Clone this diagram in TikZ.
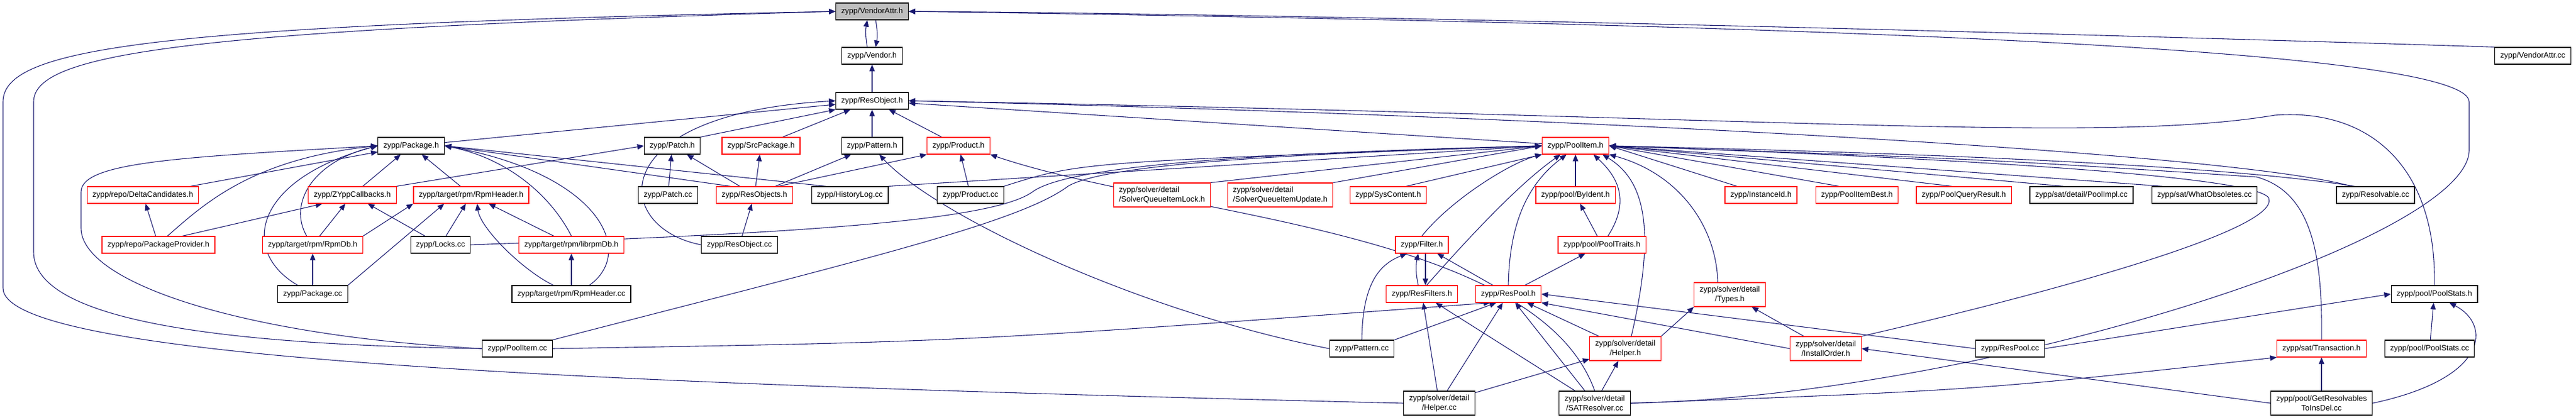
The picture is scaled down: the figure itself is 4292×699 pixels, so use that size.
\documentclass[tikz,border=0pt]{standalone}
\usepackage{fontspec}
\setmainfont{Liberation Sans}
\usepackage{xcolor}
\usepackage{tikz}
\usetikzlibrary{arrows.meta,backgrounds,positioning,calc}
\definecolor{edgeblue}{RGB}{25,25,112}
\definecolor{rootgray}{RGB}{191,191,191}

\begin{document}
\begin{tikzpicture}[x=1pt,y=-1pt,
	filebox/.style={draw=black,line width=1.2pt,fill=white,inner xsep=9pt,inner ysep=0pt,minimum height=28pt,font=\fontsize{13}{15.5}\selectfont},
	redbox/.style={filebox,draw=red},
	rootbox/.style={filebox,fill=rootgray},
	twoline/.style={align=center,minimum height=40pt},
	incl/.style={->,>={Triangle[length=11pt,width=9pt]},draw=edgeblue,line width=1.1pt}]
	\useasboundingbox (0,0) rectangle (4292,699);
	% top of the graph
	\node[rootbox] (vattrh) at (1453,19) {zypp/VendorAttr.h};
	\node[filebox] (vendorh) at (1453,93) {zypp/Vendor.h};
	\node[filebox] (vattrcc) at (4220,93) {zypp/VendorAttr.cc};
	\node[filebox] (resobjh) at (1453,168) {zypp/ResObject.h};
	% row 3
	\node[filebox] (packageh) at (685,243) {zypp/Package.h};
	\node[filebox] (patchh) at (1120,243) {zypp/Patch.h};
	\node[redbox] (srcpkgh) at (1268,243) {zypp/SrcPackage.h};
	\node[filebox] (patternh) at (1453,243) {zypp/Pattern.h};
	\node[redbox] (producth) at (1597,243) {zypp/Product.h};
	\node[redbox] (poolitemh) at (2625,243) {zypp/PoolItem.h};
	% row 4
	\node[redbox] (deltah) at (238,325) {zypp/repo/DeltaCandidates.h};
	\node[redbox] (callbacksh) at (587,325) {zypp/ZYppCallbacks.h};
	\node[redbox] (rpmheaderh) at (785,325) {zypp/target/rpm/RpmHeader.h};
	\node[filebox] (patchcc) at (1113,325) {zypp/Patch.cc};
	\node[redbox] (resobjsh) at (1257,325) {zypp/ResObjects.h};
	\node[filebox] (histlogcc) at (1416,325) {zypp/HistoryLog.cc};
	\node[filebox] (productcc) at (1617,325) {zypp/Product.cc};
	\node[redbox,twoline,align=left] (qlockh) at (1936,325) {zypp/solver/detail\\/SolverQueueItemLock.h};
	\node[redbox,twoline,align=left] (qupdh) at (2133,325) {zypp/solver/detail\\/SolverQueueItemUpdate.h};
	\node[redbox] (syscontenth) at (2313,325) {zypp/SysContent.h};
	\node[redbox] (byidenth) at (2625,325) {zypp/pool/ByIdent.h};
	\node[redbox] (instidh) at (2934,325) {zypp/InstanceId.h};
	\node[redbox] (besth) at (3094,325) {zypp/PoolItemBest.h};
	\node[redbox] (qresh) at (3272,325) {zypp/PoolQueryResult.h};
	\node[filebox] (poolimplcc) at (3468,325) {zypp/sat/detail/PoolImpl.cc};
	\node[filebox] (whatobscc) at (3673,325) {zypp/sat/WhatObsoletes.cc};
	\node[filebox] (resolvcc) at (3958,325) {zypp/Resolvable.cc};
	% row 5
	\node[redbox] (providerh) at (264,408) {zypp/repo/PackageProvider.h};
	\node[redbox] (rpmdbh) at (521,408) {zypp/target/rpm/RpmDb.h};
	\node[filebox] (lockscc) at (734,408) {zypp/Locks.cc};
	\node[redbox] (librpmh) at (952,408) {zypp/target/rpm/librpmDb.h};
	\node[filebox] (resobjcc) at (1232,408) {zypp/ResObject.cc};
	\node[redbox] (filterh) at (2369,408) {zypp/Filter.h};
	\node[redbox] (pooltraitsh) at (2669,408) {zypp/pool/PoolTraits.h};
	% row 6
	\node[filebox] (packagecc) at (521,490) {zypp/Package.cc};
	\node[filebox] (rpmheadercc) at (952,490) {zypp/target/rpm/RpmHeader.cc};
	\node[redbox] (resfiltersh) at (2369,490) {zypp/ResFilters.h};
	\node[redbox] (respoolh) at (2513,490) {zypp/ResPool.h};
	\node[redbox,twoline] (typesh) at (2882,491) {zypp/solver/detail\\/Types.h};
	\node[filebox] (statsh) at (4056,490) {zypp/pool/PoolStats.h};
	% row 7
	\node[filebox] (poolitemcc) at (862,581) {zypp/PoolItem.cc};
	\node[filebox] (patterncc) at (2269,581) {zypp/Pattern.cc};
	\node[redbox,twoline] (helperh) at (2708,581) {zypp/solver/detail\\/Helper.h};
	\node[redbox,twoline] (orderh) at (3042,581) {zypp/solver/detail\\/InstallOrder.h};
	\node[filebox] (respoolcc) at (3349,581) {zypp/ResPool.cc};
	\node[redbox] (transh) at (3868,581) {zypp/sat/Transaction.h};
	\node[filebox] (statscc) at (4048,581) {zypp/pool/PoolStats.cc};
	% row 8
	\node[filebox,twoline] (helpercc) at (2398,672) {zypp/solver/detail\\/Helper.cc};
	\node[filebox,twoline] (satcc) at (2657,672) {zypp/solver/detail\\/SATResolver.cc};
	\node[filebox,twoline] (getrescc) at (3868,672) {zypp/pool/GetResolvables\\ToInsDel.cc};

	\begin{scope}[on background layer]
	% VendorAttr.h
	\draw[incl] ([xshift=-8pt]vendorh.north) to[bend left=10] ([xshift=-8pt]vattrh.south);
	\draw[incl] ([xshift=6pt]vattrh.south) to[bend left=10] ([xshift=6pt]vendorh.north);
	\draw[incl] (vattrcc.north west) .. controls (3000,42) and (2000,22) .. (vattrh.east);
	\draw[incl] (poolitemcc.west) .. controls (400,575) and (56,540) .. (56,420) -- (56,170) .. controls (56,90) and (300,50) .. (vattrh.west);
	\draw[incl] (helpercc.west) .. controls (1000,640) and (5,600) .. (5,480) -- (5,170) .. controls (5,80) and (250,42) .. (vattrh.west);
	\draw[incl] (satcc.east) .. controls (3300,660) and (4114,400) .. (4114,250) -- (4114,170) .. controls (4114,80) and (3000,40) .. (vattrh.east);
	\draw[incl] (resobjh) -- (vendorh);
	% ResObject.h
	\draw[incl] (packageh) -- (resobjh);
	\draw[incl] (patchh.north east) -- (resobjh.south west);
	\draw[incl] (srcpkgh) -- (resobjh);
	\draw[incl] (patternh) -- (resobjh);
	\draw[incl] (producth) -- (resobjh);
	\draw[incl] (poolitemh) -- (resobjh);
	\draw[incl] (resobjcc.west) .. controls (1020,380) and (1000,190) .. (resobjh.west);
	\draw[incl] (statsh.north) .. controls (4060,280) and (3950,180) .. (3790,192) .. controls (3500,240) and (3000,195) .. (resobjh.east);
	\draw[incl] ([xshift=-40pt]resolvcc.north) .. controls (3700,250) and (2500,190) .. (resobjh.east);
	% Package.h
	\draw[incl] (poolitemcc.west) .. controls (400,560) and (135,470) .. (135,380) -- (135,320) .. controls (135,270) and (300,262) .. (packageh.west);
	\draw[incl] (deltah) -- (packageh);
	\draw[incl] ([xshift=15pt]providerh.north) .. controls (340,340) and (420,265) .. (packageh.west);
	\draw[incl] ([xshift=-25pt]packagecc.north) .. controls (400,420) and (420,300) .. (packageh.west);
	\draw[incl] ([xshift=-10pt]rpmdbh.north) .. controls (480,340) and (520,270) .. (packageh.west);
	\draw[incl] (callbacksh) -- (packageh);
	\draw[incl] (rpmheaderh) -- (packageh);
	\draw[incl] ([xshift=-40pt]resobjsh.north) -- (packageh.east);
	\draw[incl] ([xshift=-40pt]histlogcc.north) -- (packageh.east);
	\draw[incl] (librpmh.north) .. controls (920,330) and (850,265) .. (packageh.east);
	\draw[incl] ([xshift=30pt]rpmheadercc.north) .. controls (1060,420) and (1000,290) .. (packageh.east);
	% ZYppCallbacks.h and rpm headers
	\draw[incl] (callbacksh.north east) -- (patchh.west);
	\draw[incl] ([xshift=40pt]providerh.north) -- ([xshift=-50pt]callbacksh.south);
	\draw[incl] (rpmdbh) -- (callbacksh);
	\draw[incl] (lockscc) -- (callbacksh);
	\draw[incl] (rpmdbh.north east) -- (rpmheaderh.south west);
	\draw[incl] (packagecc.north east) -- ([xshift=-45pt]rpmheaderh.south);
	\draw[incl] (lockscc) -- (rpmheaderh);
	\draw[incl] (librpmh) -- (rpmheaderh);
	\draw[incl] ([xshift=-30pt]rpmheadercc.north) .. controls (870,450) and (800,380) .. ([xshift=10pt]rpmheaderh.south);
	\draw[incl] (providerh) -- (deltah);
	\draw[incl] (packagecc) -- (rpmdbh);
	\draw[incl] (rpmheadercc) -- (librpmh);
	% Patch.h, SrcPackage.h, Pattern.h, Product.h
	\draw[incl] (patchcc) -- (patchh);
	\draw[incl] (resobjsh) -- (patchh);
	\draw[incl] (resobjsh) -- (srcpkgh);
	\draw[incl] (resobjsh) -- (patternh);
	\draw[incl] ([xshift=40pt]resobjsh.north) -- (producth.south west);
	\draw[incl] (resobjcc) -- (resobjsh);
	\draw[incl] (patterncc.west) .. controls (1900,520) and (1560,360) .. ([xshift=12pt]patternh.south);
	\draw[incl] (productcc) -- (producth);
	\draw[incl] (satcc.north) .. controls (2560,380) and (1950,360) .. (producth.south east);
	% PoolItem.h
	\draw[incl] (lockscc.east) .. controls (1300,390) and (1650,370) .. (1720,320) .. controls (1780,275) and (2100,255) .. (poolitemh.west);
	\draw[incl] (poolitemcc.north east) .. controls (1450,430) and (1700,370) .. (1780,310) .. controls (1850,270) and (2200,255) .. (poolitemh.west);
	\draw[incl] (histlogcc.north east) -- (poolitemh.west);
	\draw[incl] (productcc.north east) .. controls (1800,270) .. (poolitemh.west);
	\draw[incl] (qlockh.north east) -- (poolitemh.west);
	\draw[incl] (qupdh.north east) -- (poolitemh.west);
	\draw[incl] ([xshift=30pt]syscontenth.north) -- (poolitemh.south west);
	\draw[incl] (filterh.north) .. controls (2420,330) and (2520,270) .. (poolitemh.south west);
	\draw[incl] ([xshift=8pt]resfiltersh.north) .. controls (2470,370) and (2540,300) .. ([xshift=-25pt]poolitemh.south);
	\draw[incl] (respoolh.north) .. controls (2515,380) and (2540,310) .. ([xshift=-15pt]poolitemh.south);
	\draw[incl] (byidenth) -- (poolitemh);
	\draw[incl] ([xshift=10pt]pooltraitsh.north) .. controls (2720,330) and (2690,290) .. ([xshift=30pt]poolitemh.south);
	\draw[incl] ([xshift=10pt]helperh.north) .. controls (2760,380) and (2740,300) .. ([xshift=45pt]poolitemh.south);
	\draw[incl] ([xshift=-20pt]typesh.north) .. controls (2860,380) and (2800,290) .. (poolitemh.south east);
	\draw[incl] ([xshift=-40pt]instidh.north) -- (poolitemh.east);
	\draw[incl] ([xshift=-30pt]besth.north) -- (poolitemh.east);
	\draw[incl] ([xshift=-20pt]qresh.north) -- (poolitemh.east);
	\draw[incl] ([xshift=-30pt]poolimplcc.north) -- (poolitemh.east);
	\draw[incl] ([xshift=-70pt]whatobscc.north) -- (poolitemh.east);
	\draw[incl] ([xshift=-35pt]resolvcc.north) .. controls (3700,275) and (3200,255) .. (poolitemh.east);
	\draw[incl] (transh.north) .. controls (3870,420) and (3850,320) .. (3760,295) .. controls (3300,265) .. (poolitemh.east);
	\draw[incl] (orderh.north east) .. controls (3450,480) and (3800,380) .. (3780,330) .. controls (3760,295) and (3300,265) .. (poolitemh.east);
	% Filter.h, ResFilters.h, ResPool.h
	\draw[incl] ([xshift=-6pt]resfiltersh.north) to[bend left=12] ([xshift=-6pt]filterh.south);
	\draw[incl] ([xshift=6pt]filterh.south) -- ([xshift=6pt]resfiltersh.north);
	\draw[incl] (patterncc.north) .. controls (2270,470) and (2300,440) .. ([xshift=-25pt]filterh.south);
	\draw[incl] (respoolh) -- (filterh);
	\draw[incl] (respoolh) -- (pooltraitsh);
	\draw[incl] (pooltraitsh) -- (byidenth);
	\draw[incl] (helpercc) -- (resfiltersh);
	\draw[incl] (satcc) -- (resfiltersh);
	\draw[incl] (helpercc) -- (respoolh);
	\draw[incl] (satcc) -- (respoolh);
	\draw[incl] (helperh) -- (respoolh);
	\draw[incl] (patterncc.north east) -- ([xshift=-20pt]respoolh.south);
	\draw[incl] (poolitemcc.east) .. controls (1600,570) .. ([xshift=-30pt]respoolh.south);
	\draw[incl] (respoolcc.west) -- (respoolh.east);
	\draw[incl] (orderh.west) -- (respoolh.south east);
	% solver details
	\draw[incl] (helpercc) -- (helperh);
	\draw[incl] (satcc) -- (helperh);
	\draw[incl] (helperh.north east) -- (typesh.south west);
	\draw[incl] (orderh) -- (typesh);
	\draw[incl] (getrescc.west) -- (orderh.east);
	\draw[incl] (satcc.east) .. controls (3300,650) .. (transh.south west);
	\draw[incl] (getrescc) -- (transh);
	% PoolStats.h
	\draw[incl] (respoolcc.east) -- (statsh.west);
	\draw[incl] (statscc) -- (statsh);
	\draw[incl] (getrescc.east) .. controls (4150,630) and (4150,540) .. ([xshift=25pt]statsh.south);
	\end{scope}
\end{tikzpicture}
\end{document}
